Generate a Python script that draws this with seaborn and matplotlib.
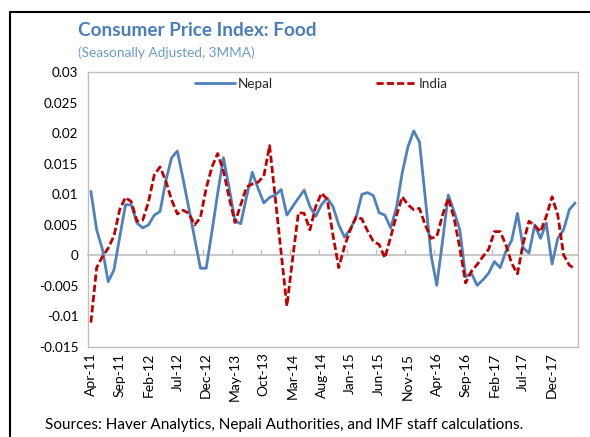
import numpy as np
import pandas as pd
import matplotlib
matplotlib.use("Agg")
import matplotlib.pyplot as plt
import seaborn as sns
from matplotlib.lines import Line2D

# ---------------- data ----------------
months = pd.date_range("2011-04-01", "2018-04-01", freq="MS")
tick_labels = ["Apr-11", "Sep-11", "Feb-12", "Jul-12", "Dec-12", "May-13", "Oct-13",
               "Mar-14", "Aug-14", "Jan-15", "Jun-15", "Nov-15", "Apr-16", "Sep-16",
               "Feb-17", "Jul-17", "Dec-17"]

nepal = [0.0105, 0.0042, 0.0010, -0.0043, -0.0024, 0.0030, 0.0083, 0.0083, 0.0053, 0.0045,
         0.0050, 0.0066, 0.0072, 0.0122, 0.0160, 0.0171, 0.0125, 0.0077, 0.0028, -0.0021,
         -0.0021, 0.0039, 0.0102, 0.0160, 0.0110, 0.0056, 0.0052, 0.0096, 0.0136, 0.0110,
         0.0086, 0.0095, 0.0099, 0.0108, 0.0066, 0.0080, 0.0094, 0.0107, 0.0080, 0.0064,
         0.0083, 0.0094, 0.0080, 0.0050, 0.0030, 0.0043, 0.0062, 0.0100, 0.0103, 0.0098,
         0.0070, 0.0066, 0.0045, 0.0078, 0.0135, 0.0178, 0.0204, 0.0186, 0.0095, 0.0001,
         -0.0049, 0.0023, 0.0099, 0.0072, 0.0042, -0.0035, -0.0029, -0.0049, -0.0040, -0.0029,
         -0.0010, -0.0020, 0.0007, 0.0025, 0.0069, 0.0012, 0.0004, 0.0050, 0.0028, 0.0053,
         -0.0014, 0.0028, 0.0042, 0.0075, 0.0086]

india = [-0.0110, -0.0020, -0.0002, 0.0012, 0.0032, 0.0075, 0.0095, 0.0088, 0.0056, 0.0058,
         0.0088, 0.0132, 0.0145, 0.0122, 0.0091, 0.0068, 0.0074, 0.0069, 0.0050, 0.0062,
         0.0110, 0.0145, 0.0167, 0.0138, 0.0094, 0.0054, 0.0083, 0.0112, 0.0117, 0.0120,
         0.0130, 0.0180, 0.0093, 0.0005, -0.0083, -0.0005, 0.0070, 0.0069, 0.0042, 0.0080,
         0.0102, 0.0092, 0.0033, -0.0020, 0.0015, 0.0042, 0.0063, 0.0060, 0.0040, 0.0023,
         0.0018, -0.0004, 0.0030, 0.0065, 0.0096, 0.0083, 0.0075, 0.0077, 0.0050, 0.0028,
         0.0031, 0.0066, 0.0094, 0.0061, 0.0012, -0.0045, -0.0026, -0.0015, -0.0002, 0.0010,
         0.0039, 0.0039, 0.0017, -0.0013, -0.0030, 0.0020, 0.0056, 0.0049, 0.0039, 0.0064,
         0.0096, 0.0066, 0.0001, -0.0016, -0.0022]

y_ticks = [-0.015, -0.01, -0.005, 0, 0.005, 0.01, 0.015, 0.02, 0.025, 0.03]
y_tick_labels = ["-0.015", "-0.01", "-0.005", "0", "0.005", "0.01", "0.015", "0.02", "0.025", "0.03"]

# ---------------- styling ----------------
sns.set_style("white")
plt.rcParams["font.family"] = ["Lato", "DejaVu Sans"]

NEPAL_C = "#4f81bd"
INDIA_C = "#c00000"
GRID_C = "#bfbfbf"

W, H = 590, 437
fig = plt.figure(figsize=(W / 100, H / 100), dpi=100)
left, right, top, bottom = 88, 578, 72.3, 347
ax = fig.add_axes([left / W, 1 - bottom / H, (right - left) / W, (bottom - top) / H])

n = len(months)
idx = np.arange(n)
sns.lineplot(x=idx, y=nepal, color=NEPAL_C, linewidth=2.0, ax=ax, label="Nepal")
sns.lineplot(x=idx, y=india, color=INDIA_C, linewidth=2.0, ax=ax, label="India")
l_nepal, l_india = ax.lines[0], ax.lines[1]
l_india.set_dashes([2.6, 1.1])

ax.set_xlim(-0.5, n - 0.5)
ax.set_ylim(-0.015, 0.03)

ax.set_yticks(y_ticks)
ax.set_yticklabels(y_tick_labels)
ax.set_xticks(np.arange(0, n, 5)[:len(tick_labels)])
ax.set_xticklabels(tick_labels, rotation=90)
ax.tick_params(axis="x", length=0, pad=4, labelsize=10, colors="black")
ax.tick_params(axis="y", direction="in", length=4, width=1, color=GRID_C, pad=7,
               labelsize=9.7, labelcolor="black")
ax.set_xlabel("")
ax.set_ylabel("")
for sp in ax.spines.values():
    sp.set_color(GRID_C)
    sp.set_linewidth(1.0)

# category axis crossing at zero, with tick marks between categories
zero_frac = (0 - (-0.015)) / (0.03 - (-0.015))
sec = ax.secondary_xaxis(zero_frac)
sec.set_xticks(np.arange(4.5, n - 1, 5))
sec.tick_params(direction="in", length=4, width=1, color=GRID_C, labelbottom=False,
                labeltop=False)
for sp in sec.spines.values():
    sp.set_color(GRID_C)
    sp.set_linewidth(1.2)

leg = ax.legend(handles=[l_nepal, l_india], labels=["Nepal", "India"], ncol=2,
                frameon=False, loc="center left",
                bbox_to_anchor=((195 - left) / (right - left), (bottom - 84) / (bottom - top)),
                borderaxespad=0, borderpad=0, handlelength=3.0, handletextpad=0.2,
                columnspacing=7.6, fontsize=9.7)

fig.text(78 / W, 1 - 31 / H, "Consumer Price Index: Food", fontsize=13.7, fontweight="bold",
         color="#4a7ebb", va="center", ha="left")
fig.text(78 / W, 1 - 53 / H, "(Seasonally Adjusted, 3MMA)", fontsize=9.8,
         color="#6a9acb", va="center", ha="left")
fig.text(45 / W, 1 - 425 / H,
         "Sources: Haver Analytics, Nepali Authorities, and IMF staff calculations.",
         fontsize=11, va="center", ha="left", color="black")

# outer chart frame (top and left edges visible)
fig.add_artist(Line2D([10 / W, 10 / W], [0, 1 - 12 / H], transform=fig.transFigure,
                      color="black", lw=1.5))
fig.add_artist(Line2D([10 / W, 1], [1 - 12 / H, 1 - 12 / H], transform=fig.transFigure,
                      color="black", lw=1.5))

fig.savefig("out.png", dpi=100)
